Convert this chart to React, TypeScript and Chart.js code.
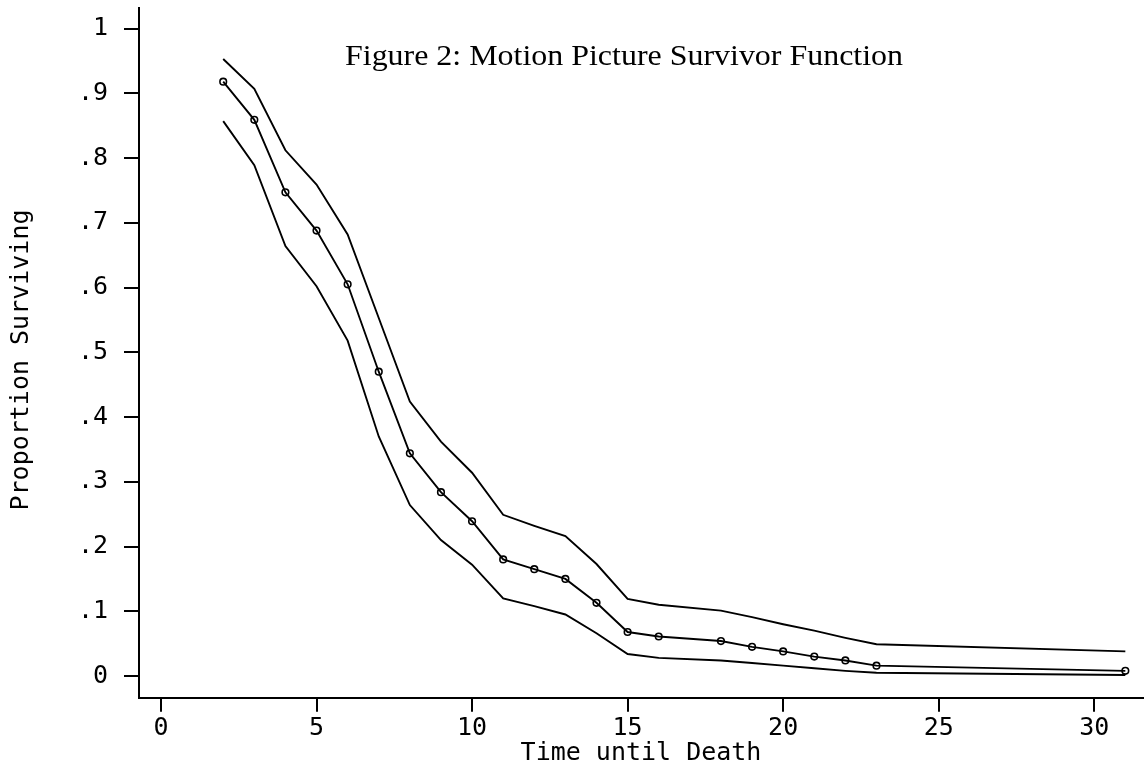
import React, { useEffect, useRef } from 'react';
import { Chart, registerables } from 'chart.js';

Chart.register(...registerables);

const times = [2, 3, 4, 5, 6, 7, 8, 9, 10, 11, 12, 13, 14, 15, 16, 18, 19, 20, 21, 22, 23, 31];
const survival = [0.918, 0.859, 0.747, 0.688, 0.605, 0.470, 0.344, 0.284, 0.239, 0.180, 0.165, 0.150, 0.113, 0.068, 0.061, 0.054, 0.045, 0.038, 0.030, 0.024, 0.016, 0.008];
const upperCI = [0.953, 0.907, 0.812, 0.759, 0.682, 0.553, 0.424, 0.362, 0.314, 0.249, 0.232, 0.216, 0.173, 0.119, 0.110, 0.101, 0.091, 0.080, 0.070, 0.059, 0.049, 0.038];
const lowerCI = [0.857, 0.789, 0.664, 0.602, 0.518, 0.370, 0.264, 0.210, 0.172, 0.120, 0.108, 0.095, 0.066, 0.034, 0.028, 0.024, 0.020, 0.016, 0.012, 0.008, 0.005, 0.0015];

const yTicks = [0, 0.1, 0.2, 0.3, 0.4, 0.5, 0.6, 0.7, 0.8, 0.9, 1];
const yTickLabels = ['0', '.1', '.2', '.3', '.4', '.5', '.6', '.7', '.8', '.9', '1'];
const xTicks = [0, 5, 10, 15, 20, 25, 30];

const titleText = 'Figure 2: Motion Picture Survivor Function';
const xTitle = 'Time until Death';
const yTitle = 'Proportion Surviving';

const MONO = '"DejaVu Sans Mono", monospace';

export default function App() {
  const ref = useRef<HTMLCanvasElement | null>(null);

  useEffect(() => {
    if (!ref.current) return;
    const textPlugin = {
      id: 'texts',
      afterDraw(chart: any) {
        const ctx = chart.ctx;
        ctx.save();
        ctx.fillStyle = '#000';
        // title
        ctx.font = '29px "Liberation Serif", serif';
        ctx.textAlign = 'center';
        ctx.textBaseline = 'alphabetic';
        const w = ctx.measureText(titleText).width;
        const sx = 558 / w;
        ctx.save();
        ctx.translate(624, 65);
        ctx.scale(sx, 1);
        ctx.fillText(titleText, 0, 0);
        ctx.restore();
        // x title
        ctx.font = '25px ' + MONO;
        ctx.fillText(xTitle, 641, 760);
        // y title
        ctx.translate(28, 360);
        ctx.rotate(-Math.PI / 2);
        ctx.fillText(yTitle, 0, 0);
        ctx.restore();
      },
    };

    const pts = (ys: number[]) => times.map((t, i) => ({ x: t, y: ys[i] }));

    const chart = new Chart(ref.current, {
      type: 'line',
      data: {
        datasets: [
          {
            data: pts(upperCI),
            borderColor: '#000',
            borderWidth: 1.9,
            pointRadius: 0,
            fill: false,
            tension: 0,
          },
          {
            data: pts(survival),
            borderColor: '#000',
            borderWidth: 1.9,
            pointRadius: 3.3,
            pointBorderWidth: 1.6,
            pointBorderColor: '#000',
            pointBackgroundColor: 'rgba(255,255,255,0)',
            fill: false,
            tension: 0,
          },
          {
            data: pts(lowerCI),
            borderColor: '#000',
            borderWidth: 1.9,
            pointRadius: 0,
            fill: false,
            tension: 0,
          },
        ],
      },
      options: {
        responsive: false,
        animation: false,
        events: [],
        layout: { autoPadding: false, padding: { top: 7.5, right: 0, left: 0, bottom: 0 } },
        plugins: {
          legend: { display: false },
          title: { display: false },
          tooltip: { enabled: false },
        },
        scales: {
          x: {
            type: 'linear',
            min: -0.707,
            max: 31.6,
            afterFit(scale: any) {
              scale.height = 73.3;
              scale.paddingLeft = 0;
              scale.paddingRight = 0;
            },
            afterBuildTicks(scale: any) {
              scale.ticks = xTicks.map((v) => ({ value: v }));
            },
            ticks: {
              color: '#000',
              font: { family: 'DejaVu Sans Mono', size: 25 },
              padding: 2,
              maxRotation: 0,
              autoSkip: false,
              callback: (v: any) => String(v),
            },
            grid: {
              drawOnChartArea: false,
              drawTicks: true,
              tickLength: 14,
              color: '#000',
              lineWidth: 2,
            },
            border: { display: true, color: '#000', width: 2 },
          },
          y: {
            type: 'linear',
            min: -0.0335,
            max: 1.0325,
            afterFit(scale: any) {
              scale.width = 139;
              scale.paddingTop = 0;
              scale.paddingBottom = 0;
            },
            afterBuildTicks(scale: any) {
              scale.ticks = yTicks.map((v) => ({ value: v }));
            },
            ticks: {
              color: '#000',
              font: { family: 'DejaVu Sans Mono', size: 25 },
              padding: 16,
              autoSkip: false,
              callback: (v: any) => {
                const i = yTicks.findIndex((t) => Math.abs(t - v) < 1e-9);
                return i >= 0 ? yTickLabels[i] : '';
              },
            },
            grid: {
              drawOnChartArea: false,
              drawTicks: true,
              tickLength: 15,
              color: '#000',
              lineWidth: 2,
            },
            border: { display: true, color: '#000', width: 2 },
          },
        },
      },
      plugins: [textPlugin],
    });
    return () => chart.destroy();
  }, []);

  return (
    <div style={{ position: 'fixed', left: 0, top: 0, width: 1144, height: 771, background: '#fff' }}>
      <canvas ref={ref} width={1144} height={771} style={{ width: 1144, height: 771, display: 'block' }} />
    </div>
  );
}
